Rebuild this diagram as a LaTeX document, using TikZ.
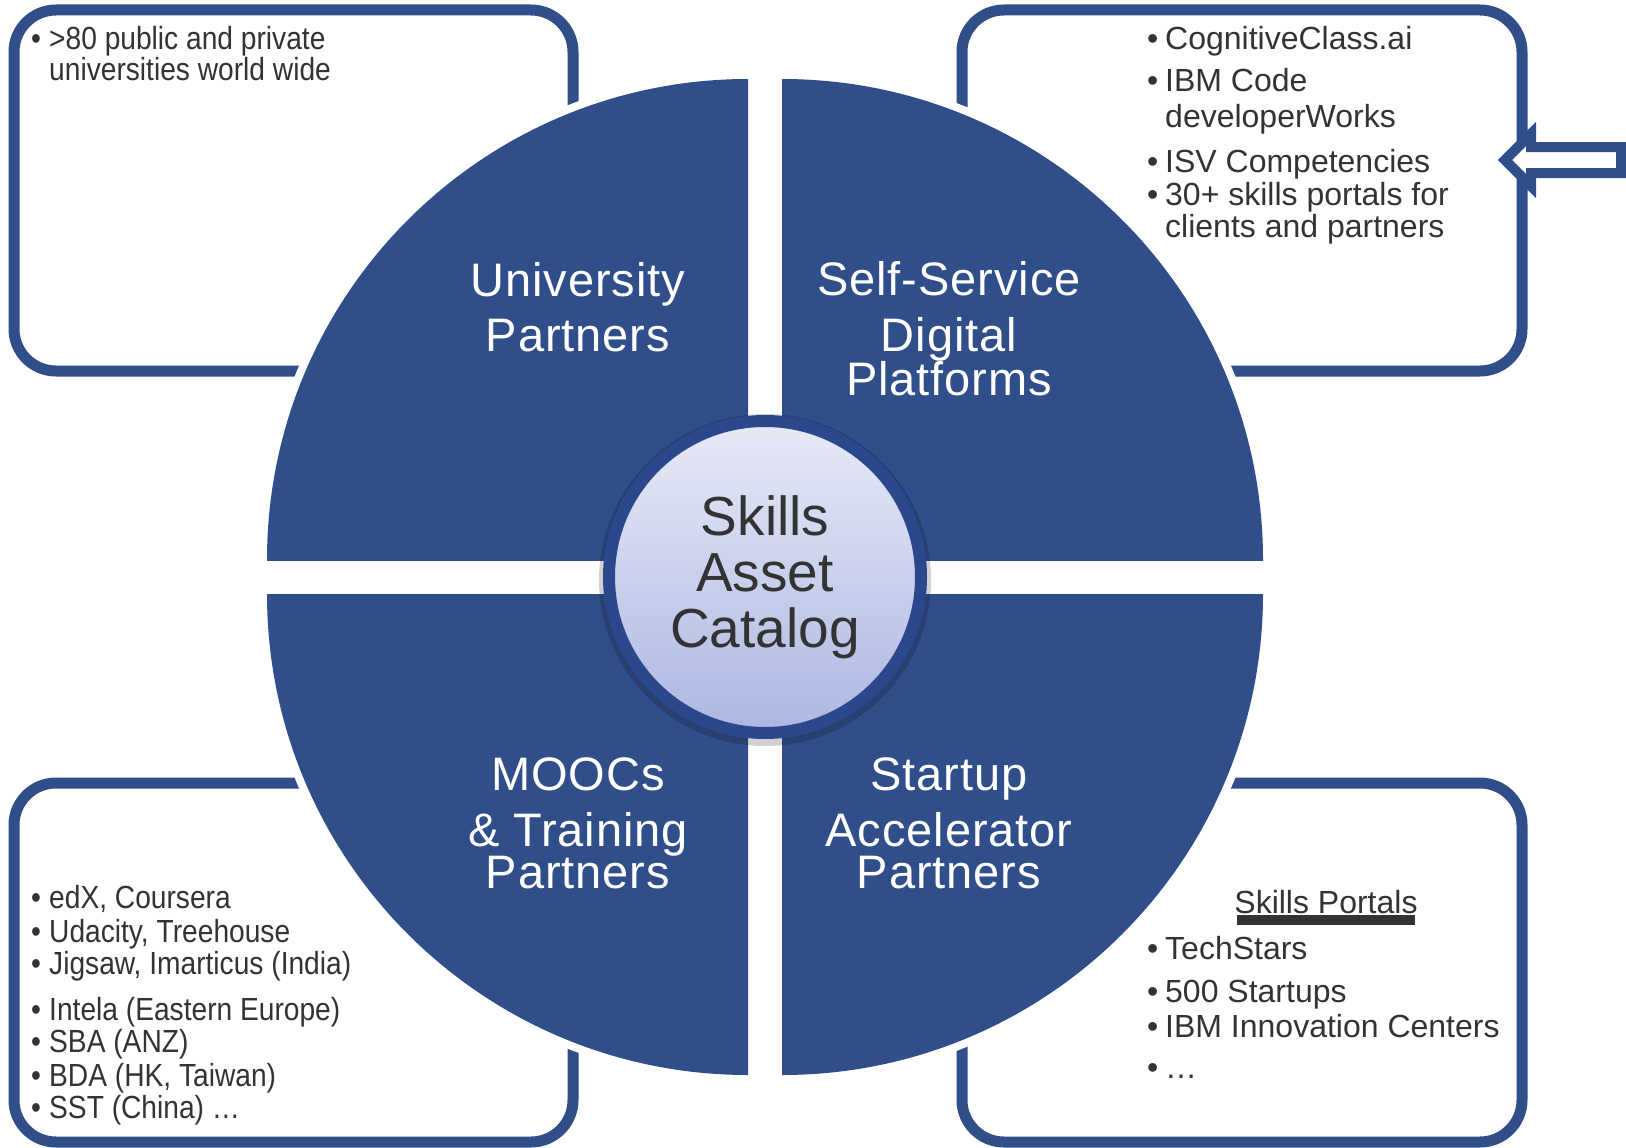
\documentclass[tikz,border=0pt]{standalone}
\usepackage{fontspec}
\setmainfont{Liberation Sans}
\newfontfamily\narrowf{Liberation Sans}[FakeStretch=0.88]
\newfontfamily\labf{Liberation Sans}[LetterSpace=2]
\definecolor{ibmblue}{RGB}{48,78,138}
\definecolor{ringblue}{RGB}{44,72,140}
\definecolor{hubtop}{RGB}{232,234,246}
\definecolor{hubbot}{RGB}{172,183,226}
\definecolor{txtgray}{RGB}{51,51,51}
\newcommand\bl[1]{\makebox[18pt][l]{\textbullet}#1}
\tikzset{
  boxframe/.style={draw=ibmblue, line width=11pt, rounded corners=42pt},
  txt/.style={anchor=base west, inner sep=0pt, text=txtgray, font=\fontsize{32}{33}\selectfont},
  ntxt/.style={anchor=base west, inner sep=0pt, text=txtgray, font=\narrowf\fontsize{32}{33}\selectfont},
  qlabel/.style={anchor=base, inner sep=0pt, text=white, font=\labf\fontsize{47}{50}\selectfont},
  blockarrow/.style={draw=ibmblue, fill=white, line width=10pt, line join=miter},
}
\begin{document}
\begin{tikzpicture}[x=1pt,y=-1pt]
\useasboundingbox[fill=white] (0,0) rectangle (1626,1148);
% frames
\draw[boxframe] (14,10) rectangle (573,371);
\draw[boxframe] (962,10) rectangle (1522,371);
\draw[boxframe] (14,783) rectangle (573,1142);
\draw[boxframe] (962,783) rectangle (1522,1142);
% block arrow
\draw[blockarrow] (1505,160) -- (1531,134) -- (1531,147) -- (1621,147) -- (1621,173) -- (1531,173) -- (1531,186) -- cycle;
% quarter discs
\foreach \cx/\cy/\sx/\sy in {748/560/-1/-1, 782/560/1/-1, 748/594/-1/1, 782/594/1/1} {
  \begin{scope}
    \clip (\cx,\cy) rectangle ({\cx+\sx*600},{\cy+\sy*600});
    \fill[white] (\cx,\cy) circle[radius=489pt];
    \fill[ibmblue] (\cx,\cy) circle[radius=481pt];
  \end{scope}
}
% hub
\fill[black, opacity=0.18] (765,580) circle[radius=166pt];
\node[circle, minimum size=312pt, inner sep=0pt, line width=12pt, draw=ringblue,
      top color=hubtop, bottom color=hubbot, text=txtgray, align=center,
      font=\fontsize{55}{56}\selectfont] (hub) at (765,577) {Skills\\Asset\\Catalog};
% quadrant labels
\node[qlabel] (ul1) at (578,296) {University};
\node[qlabel] (ul2) at (578,351) {Partners};
\node[qlabel] (ur1) at (949,295) {Self-Service};
\node[qlabel] (ur2) at (949,351) {Digital};
\node[qlabel] (ur3) at (949,395) {Platforms};
\node[qlabel] (ll1) at (578,790) {MOOCs};
\node[qlabel] (ll2) at (578,846) {\& Training};
\node[qlabel] (ll3) at (578,888) {Partners};
\node[qlabel] (lr1) at (949,790) {Startup};
\node[qlabel] (lr2) at (949,846) {Accelerator};
\node[qlabel] (lr3) at (949,888) {Partners};
% top-left text
\node[ntxt] (tl1) at (31,50) {\bl{>80 public and private}};
\node[ntxt] (tl2) at (49,81) {universities world wide};
% top-right text
\node[txt] (tr1) at (1147,50) {\bl{CognitiveClass.ai}};
\node[txt] (tr2) at (1147,92) {\bl{IBM Code}};
\node[txt] (tr3) at (1165,127) {developerWorks};
\node[txt] (tr4) at (1147,172) {\bl{ISV Competencies}};
\node[txt] (tr5) at (1147,205) {\bl{30+ skills portals for}};
\node[txt] (tr6) at (1165,237) {clients and partners};
% bottom-left text
\node[ntxt] (bl1) at (31,908) {\bl{edX, Coursera}};
\node[ntxt] (bl2) at (31,942) {\bl{Udacity, Treehouse}};
\node[ntxt] (bl3) at (31,974) {\bl{Jigsaw, Imarticus (India)}};
\node[ntxt] (bl4) at (31,1020) {\bl{Intela (Eastern Europe)}};
\node[ntxt] (bl5) at (31,1052) {\bl{SBA (ANZ)}};
\node[ntxt] (bl6) at (31,1086) {\bl{BDA (HK, Taiwan)}};
\node[ntxt] (bl7) at (31,1118) {\bl{SST (China) …}};
% bottom-right text
\node[anchor=base, inner sep=0pt, text=txtgray, font=\fontsize{32}{33}\selectfont] (sp) at (1326,913) {Skills Portals};
\fill[txtgray] (1237,915) rectangle (1415,925);
\node[txt] (br1) at (1147,959) {\bl{TechStars}};
\node[txt] (br2) at (1147,1002) {\bl{500 Startups}};
\node[txt] (br3) at (1147,1037) {\bl{IBM Innovation Centers}};
\node[txt] (br4) at (1147,1078) {\bl{…}};
\end{tikzpicture}
\end{document}
